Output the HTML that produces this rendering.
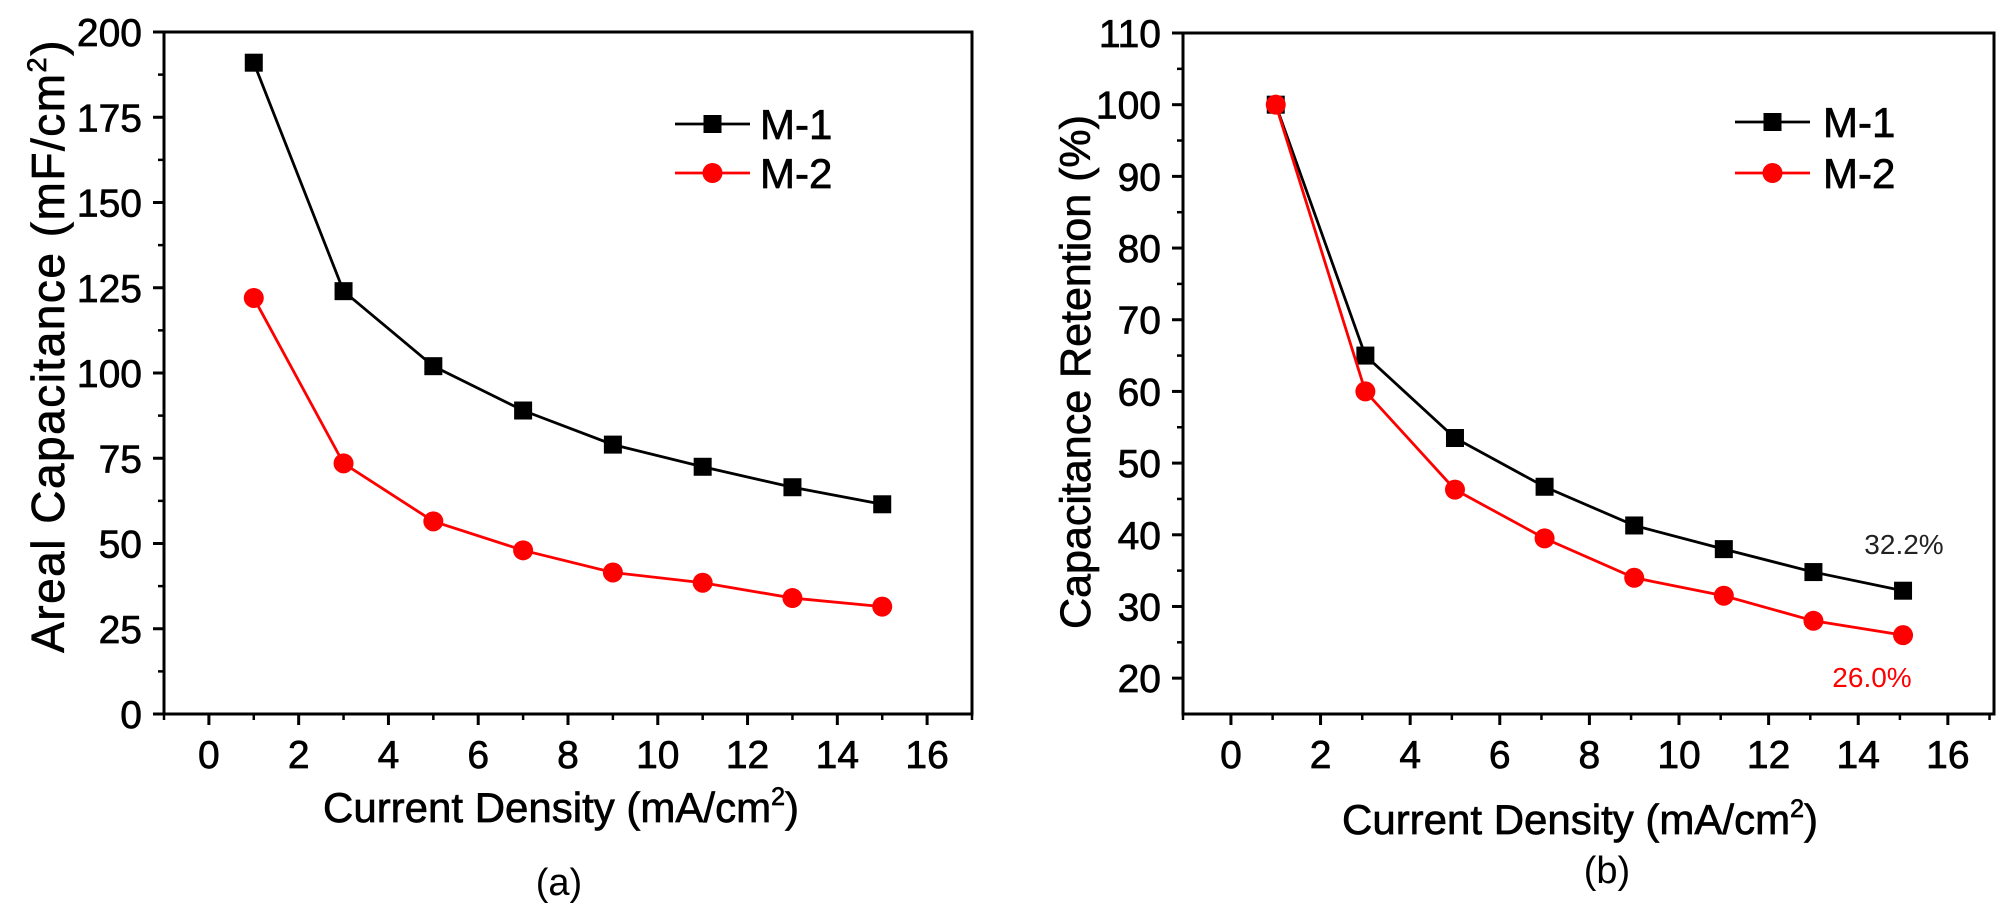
<!DOCTYPE html>
<html><head><meta charset="utf-8">
<style>
html,body{margin:0;padding:0;background:#fff;}
svg{display:block;font-family:"Liberation Sans",Arial,sans-serif;}
.t{stroke:#000;stroke-width:0.7px;}
</style></head>
<body>
<svg id="fig" width="2000" height="905" viewBox="0 0 2000 905"></svg>
<script>
const xCats = [1,3,5,7,9,11,13,15];
const capM1 = [191,124,102,89,79,72.5,66.5,61.5];
const capM2 = [122,73.5,56.5,48,41.5,38.5,34,31.5];
const retM1 = [100,65,53.5,46.7,41.3,38,34.8,32.2];
const retM2 = [100,60,46.3,39.5,34,31.5,28,26];
const xTicks = [0,2,4,6,8,10,12,14,16];
const capTicks = [0,25,50,75,100,125,150,175,200];
const retTicks = [20,30,40,50,60,70,80,90,100,110];
const seriesNames = ["M-1","M-2"];

const NS="http://www.w3.org/2000/svg";
const svg=document.getElementById('fig');
function el(tag,attrs,parent,text){const e=document.createElementNS(NS,tag);for(const k in attrs)e.setAttribute(k,attrs[k]);if(text!==undefined)e.textContent=text;(parent||svg).appendChild(e);return e;}

function panel(cfg){
  const g=el('g',{});
  
  
  const {L,R,T,B,xmin,xmax,ymin,ymax}=cfg;
  const sx=v=>L+(v-xmin)/(xmax-xmin)*(R-L);
  const sy=v=>B-(v-ymin)/(ymax-ymin)*(B-T);
  const frame=el('rect',{x:L,y:T,width:R-L,height:B-T,fill:'none',stroke:'#000','stroke-width':3},g);
  
  
  for(const t of xTicks){
    el('line',{x1:sx(t),x2:sx(t),y1:B,y2:B+11,stroke:'#000','stroke-width':3},g);
    const tx=el('text',{x:sx(t),y:B+54,'font-size':39,'text-anchor':'middle',class:'t'},g,String(t));
    
    
  }
  for(let t=xmin;t<=xmax;t+=2){
    el('line',{x1:sx(t),x2:sx(t),y1:B,y2:B+6,stroke:'#000','stroke-width':2.5},g);
  }
  const yt=cfg.yTicks, step=yt[1]-yt[0];
  for(const t of yt){
    el('line',{x1:L-11,x2:L,y1:sy(t),y2:sy(t),stroke:'#000','stroke-width':3},g);
    const ty=el('text',{x:L-22,y:sy(t)+14,'font-size':39,'text-anchor':'end',class:'t'},g,String(t));
    
    
    if(t+step/2<ymax) el('line',{x1:L-6,x2:L,y1:sy(t+step/2),y2:sy(t+step/2),stroke:'#000','stroke-width':2.5},g);
  }
  const cols=['#000','#f00'];
  cfg.series.forEach((vals,i)=>{
    const pts=xCats.map((x,j)=>sx(x)+','+sy(vals[j])).join(' ');
    const pl=el('polyline',{points:pts,fill:'none',stroke:cols[i],'stroke-width':2.8},g);
    
    
    xCats.forEach((x,j)=>{
      let m;
      if(i===0) m=el('rect',{x:sx(x)-9,y:sy(vals[j])-9,width:18,height:18,fill:'#000'},g);
      else m=el('circle',{cx:sx(x),cy:sy(vals[j]),r:10,fill:'#f00'},g);
      
      
    });
  });
  const lg=cfg.legend;
  [0,1].forEach(i=>{
    const y=lg.y[i];
    el('line',{x1:lg.x1,x2:lg.x2,y1:y,y2:y,stroke:cols[i],'stroke-width':2.8},g);
    const mx=(lg.x1+lg.x2)/2;
    if(i===0) el('rect',{x:mx-9,y:y-9,width:18,height:18,fill:'#000'},g);
    else el('circle',{cx:mx,cy:y,r:10,fill:'#f00'},g);
    const lt=el('text',{x:lg.tx,y:y+15,'font-size':42,class:'t'},g,seriesNames[i]);
    
    
  });
  const xtT=el('text',{x:cfg.xTitle.x,y:cfg.xTitle.y,'font-size':42,'text-anchor':'middle',class:'t'},g);
  
  
  xtT.innerHTML='Current Density (mA/cm<tspan dy="-17" font-size="25">2</tspan><tspan dy="17">)</tspan>';
  const ytT=el('text',{transform:`translate(${cfg.yTitle.x},${cfg.yTitle.y}) rotate(-90)`,'font-size':cfg.yTitle.fs,'letter-spacing':cfg.yTitle.ls,'text-anchor':'middle',class:'t'},g);
  
  
  ytT.innerHTML=cfg.yTitle.html;
  const cap=el('text',{x:cfg.cap.x,y:cfg.cap.y,'font-size':38,'text-anchor':'middle'},g,cfg.cap.t);
  
  
  return {g,sx,sy};
}

panel({name:'panel-a',L:164,R:972,T:32,B:714,xmin:-1,xmax:17,ymin:0,ymax:200,yTicks:capTicks,
  series:[capM1,capM2],legend:{x1:675,x2:750,tx:760,y:[124,173]},
  xTitle:{x:561,y:822},yTitle:{x:64,y:346,fs:46,ls:1.5,html:'Areal Capacitance (mF/cm<tspan dy="-18" font-size="27">2</tspan><tspan dy="18">)</tspan>'},
  cap:{x:559,y:895,t:'(a)'}});
const b=panel({name:'panel-b',L:1183,R:1994,T:33,B:714,xmin:-1.07,xmax:17.03,ymin:15,ymax:110,yTicks:retTicks,
  series:[retM1,retM2],legend:{x1:1735,x2:1810,tx:1823,y:[122,173]},
  xTitle:{x:1580,y:834},yTitle:{x:1090,y:372,fs:43,ls:0,html:'Capacitance Retention (%)'},
  cap:{x:1607,y:883,t:'(b)'}});
const a1=el('text',{x:1904,y:554,'font-size':28,'text-anchor':'middle',fill:'#222'},b.g,retM1[7].toFixed(1)+'%');


const a2=el('text',{x:1872,y:687,'font-size':28,'text-anchor':'middle',fill:'#f00'},b.g,retM2[7].toFixed(1)+'%');


</script>
</body></html>
